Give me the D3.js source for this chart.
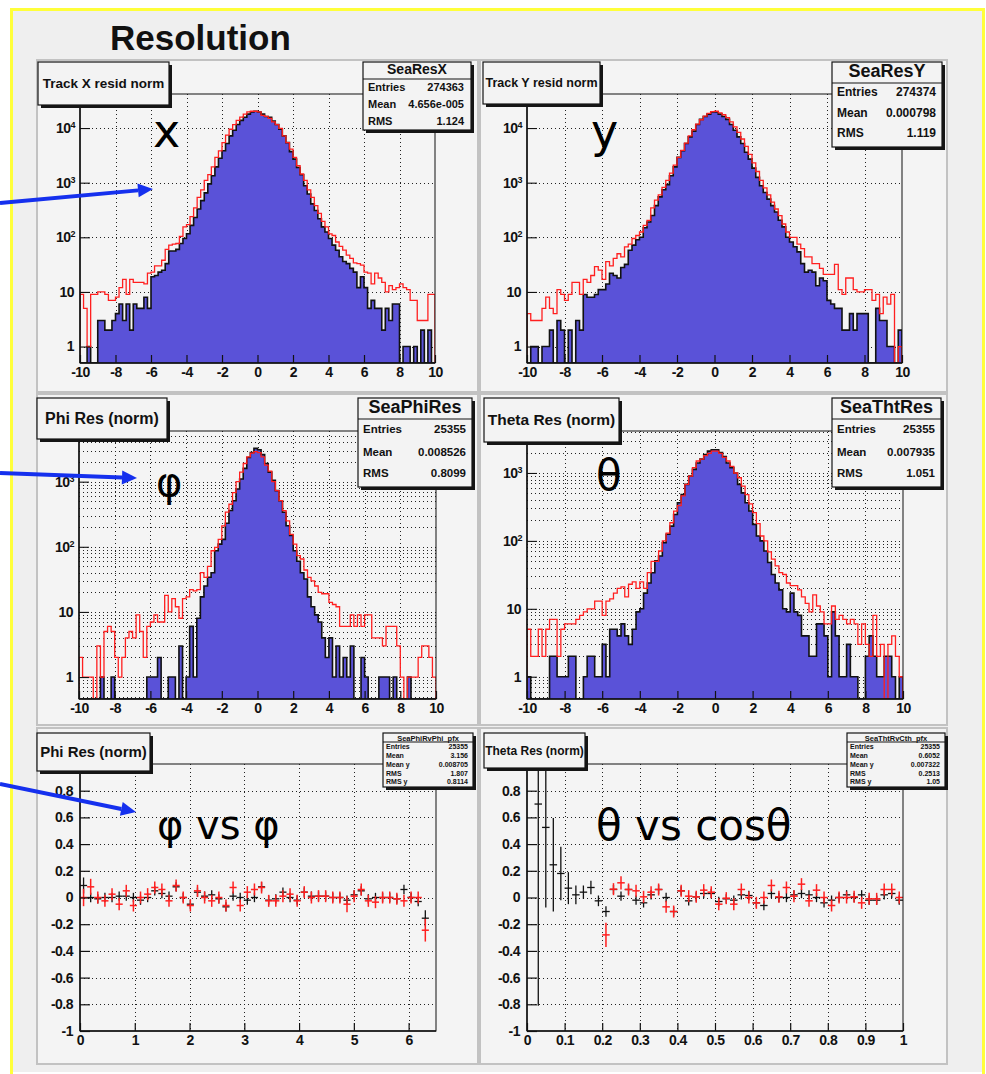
<!DOCTYPE html>
<html>
<head>
<meta charset="utf-8">
<script src="https://cdn.jsdelivr.net/npm/d3@7"></script>
<style>
  body { margin: 0; background: #ffffff; }
  svg { display: block; }
</style>
</head>
<body>
<svg id="c" width="986" height="1074"></svg>
<script>
// ---------------- data ----------------
// Residual histograms: 100 bins over [-10, 10]
const histLo = -10, histHi = 10, histBins = 100;
const histXTicks = [-10, -8, -6, -4, -2, 0, 2, 4, 6, 8, 10];

const resXBlack = [
  0, 0, 1, 0, 0, 3, 3, 2, 2, 3,
  4, 6, 3, 6, 2, 6, 5, 5, 8, 5,
  19, 20, 23, 25, 33, 56, 56, 60, 77, 95,
  116, 165, 230, 330, 470, 650, 950, 1340, 1950, 2800,
  3830, 5200, 7200, 9100, 11600, 13800, 15800, 18000, 19700, 20300,
  19700, 18000, 16300, 15800, 13500, 11600, 9500, 7200, 5400, 3700,
  2700, 1900, 1400, 880, 620, 410, 310, 218, 155, 125,
  95, 72, 58, 44, 36, 33, 27, 23, 12, 19,
  12, 5, 7, 5, 5, 2, 5, 3, 6, 6,
  0, 1, 1, 0, 1, 0, 2, 0, 2, 0
];
const resXRed = [
  9, 5, 1, 9, 9, 10, 10, 9, 7, 7,
  8, 12, 17, 9, 17, 15, 15, 15, 14, 22,
  23, 30, 30, 38, 60, 72, 75, 77, 104, 155,
  170, 240, 345, 540, 740, 1100, 1400, 1950, 2900, 3830,
  5400, 7400, 9500, 11600, 13800, 15800, 18000, 19700, 20300, 20300,
  19700, 17000, 16300, 15000, 13000, 11600, 9900, 7200, 5400, 4100,
  2900, 2040, 1440, 1100, 740, 540, 380, 275, 195, 155,
  116, 108, 82, 68, 58, 47, 41, 34, 33, 31,
  23, 22, 14, 22, 18, 15, 10, 13, 11, 12,
  14, 12, 11, 7, 7, 3, 3, 3, 9, 9
];
const resYBlack = [
  0, 1, 1, 0, 1, 1, 2, 0, 3, 2,
  0, 2, 0, 3, 2, 9, 8, 8, 9, 11,
  11, 14, 22, 20, 18, 28, 32, 58, 72, 90,
  100, 150, 190, 250, 380, 550, 740, 920, 1340, 1950,
  2900, 3830, 5200, 6900, 8800, 11600, 14400, 16300, 18000, 19700,
  19700, 18000, 16300, 14400, 11600, 9100, 6900, 5200, 3600, 2700,
  1850, 1250, 880, 660, 500, 380, 290, 205, 155, 100,
  82, 67, 54, 33, 23, 25, 23, 13, 18, 16,
  7, 6, 5, 5, 2, 2, 4, 2, 4, 4,
  4, 0, 0, 5, 3, 3, 1, 1, 0, 2
];
const resYRed = [
  4, 3, 3, 3, 5, 8, 5, 4, 11, 9,
  7, 9, 15, 15, 9, 17, 15, 20, 29, 25,
  17, 36, 30, 41, 50, 44, 67, 75, 95, 108,
  125, 165, 204, 345, 480, 600, 820, 1100, 1500, 2100,
  2900, 3900, 5300, 7200, 9300, 11800, 14200, 16500, 18500, 19900,
  20300, 19000, 17500, 15500, 13000, 10500, 8300, 6300, 4600, 3300,
  2300, 1600, 1100, 800, 600, 440, 330, 250, 175, 125,
  100, 100, 75, 62, 44, 44, 33, 33, 27, 21,
  21, 21, 32, 11, 9, 18, 18, 11, 10, 10,
  11, 11, 7, 9, 4, 8, 6, 9, 0, 1
];
const phiBlack = [
  0, 0, 0, 0, 0, 0, 1, 0, 0, 1,
  0, 0, 0, 0, 0, 0, 0, 0, 0, 1,
  1, 1, 2, 0, 0, 1, 1, 0, 3, 0,
  1, 6, 1, 8, 17, 25, 34, 40, 87, 110,
  130, 230, 360, 510, 770, 1100, 1600, 2350, 2800, 3250,
  3100, 2600, 1900, 1400, 1050, 730, 510, 340, 210, 150,
  87, 60, 40, 32, 17, 12, 9, 7, 4, 2,
  4, 1, 3, 1, 2, 1, 3, 0, 0, 2,
  1, 0, 0, 0, 1, 1, 1, 0, 1, 0,
  0, 0, 1, 0, 0, 0, 0, 0, 0, 0
];
const phiRed = [
  2, 1, 1, 1, 0, 3, 1, 5, 6, 5,
  2, 1, 2, 4, 5, 4, 9, 5, 2, 6,
  7, 9, 7, 7, 18, 10, 16, 12, 8, 16,
  17, 22, 21, 22, 40, 34, 50, 87, 98, 130,
  210, 340, 450, 680, 1000, 1400, 1900, 2400, 2750, 2900,
  2800, 2400, 1800, 1450, 1000, 730, 510, 360, 250, 155,
  110, 73, 65, 44, 34, 30, 25, 20, 19, 19,
  14, 13, 12, 6, 6, 6, 9, 6, 9, 6,
  9, 9, 4, 4, 4, 3, 6, 6, 6, 3,
  1, 0, 1, 1, 1, 2, 3, 3, 2, 1
];
const thtBlack = [
  1, 0, 0, 0, 0, 0, 2, 2, 1, 1,
  1, 2, 2, 0, 0, 1, 2, 2, 1, 1,
  3, 1, 5, 5, 4, 6, 4, 3, 5, 9,
  10, 17, 24, 34, 51, 60, 94, 125, 165, 245,
  365, 480, 680, 900, 1130, 1400, 1600, 1870, 2100, 2200,
  2200, 2000, 1750, 1400, 1200, 1000, 680, 510, 365, 275,
  175, 118, 100, 71, 48, 32, 24, 19, 10, 9,
  17, 9, 8, 4, 4, 2, 2, 6, 6, 4,
  1, 9, 4, 1, 1, 3, 1, 1, 0, 0,
  2, 4, 2, 1, 1, 2, 2, 1, 0, 1
];
const thtRed = [
  5, 2, 2, 5, 2, 5, 7, 7, 2, 5,
  6, 6, 6, 7, 8, 9, 10, 10, 13, 13,
  8, 13, 14, 17, 20, 21, 15, 23, 25, 20,
  25, 20, 34, 50, 50, 71, 100, 130, 185, 275,
  330, 460, 680, 900, 1200, 1500, 1600, 1800, 1950, 2100,
  2100, 1950, 1700, 1500, 1250, 1000, 850, 640, 480, 350,
  260, 180, 118, 100, 69, 54, 43, 34, 32, 24,
  22, 22, 19, 15, 12, 9, 16, 11, 9, 6,
  6, 11, 7, 8, 7, 6, 7, 6, 3, 6,
  3, 2, 8, 2, 3, 0, 3, 4, 2, 1
];

// Profiles: residual mean vs phi (bin width 0.13 from 0)
const phiProfBinWidth = 0.13;
const phiProfBlack = [
  0.09, 0.00, -0.01, 0.00, 0.00, 0.01, 0.01, 0.00, -0.02, 0.00,
  0.05, 0.03, 0.01, 0.08, 0.00, -0.05, 0.04, 0.01, 0.02, -0.01,
  -0.07, 0.01, 0.00, -0.02, 0.00, 0.08, -0.02, -0.01, 0.04, 0.00,
  -0.02, 0.04, 0.01, 0.01, 0.01, 0.00, 0.00, -0.02, 0.02, 0.05,
  -0.01, 0.00, 0.00, 0.00, -0.01, 0.06, 0.00, -0.03, -0.155
];
const phiProfBlackErr = [
  0.06, 0.035, 0.035, 0.035, 0.035, 0.035, 0.035, 0.035, 0.035, 0.035,
  0.035, 0.035, 0.035, 0.035, 0.035, 0.035, 0.035, 0.035, 0.035, 0.035,
  0.035, 0.035, 0.035, 0.035, 0.035, 0.035, 0.035, 0.035, 0.035, 0.035,
  0.035, 0.035, 0.035, 0.035, 0.035, 0.035, 0.035, 0.035, 0.035, 0.035,
  0.035, 0.035, 0.035, 0.035, 0.035, 0.035, 0.035, 0.035, 0.06
];
const phiProfRed = [
  0.00, 0.08, 0.00, -0.025, 0.025, -0.05, 0.05, -0.06, 0.00, 0.025,
  0.075, 0.06, -0.025, 0.09, 0.00, -0.06, 0.05, 0.00, -0.025, 0.00,
  -0.06, 0.075, -0.06, 0.04, 0.06, 0.075, -0.025, -0.025, 0.01, 0.025,
  -0.025, 0.04, 0.00, 0.01, 0.01, 0.00, 0.00, -0.05, 0.01, 0.06,
  -0.025, -0.035, 0.00, 0.00, -0.01, -0.025, 0.00, 0.00, -0.245
];
const phiProfRedErr = [
  0.065, 0.06, 0.045, 0.045, 0.045, 0.045, 0.045, 0.045, 0.045, 0.045,
  0.045, 0.045, 0.045, 0.045, 0.045, 0.045, 0.045, 0.045, 0.045, 0.045,
  0.045, 0.045, 0.045, 0.045, 0.045, 0.045, 0.045, 0.045, 0.045, 0.045,
  0.045, 0.045, 0.045, 0.045, 0.045, 0.045, 0.045, 0.06, 0.045, 0.045,
  0.045, 0.045, 0.045, 0.045, 0.045, 0.045, 0.045, 0.045, 0.085
];

// Profiles: residual mean vs cos(theta) (bin width 0.02 from 0)
const cosProfBinWidth = 0.02;
const cosProfBlack = [
  null, 0.70, 0.525, 0.245, 0.18, 0.07, 0.02, 0.04, 0.075, -0.025,
  -0.105, 0.06, 0.01, 0.06, -0.02, -0.04, 0.02, 0.06, 0.00, -0.105,
  0.05, -0.025, 0.005, 0.03, 0.03, -0.03, -0.01, -0.02, 0.02, 0.015,
  -0.04, -0.06, 0.03, 0.00, 0.00, 0.02, 0.03, 0.02, 0.00, -0.04,
  -0.02, 0.00, 0.02, 0.00, 0.02, -0.02, -0.02, 0.02, 0.03, -0.02
];
const cosProfBlackErr = [
  null, 1.51, 0.6, 0.35, 0.2, 0.12, 0.07, 0.05, 0.05, 0.04,
  0.04, 0.035, 0.035, 0.035, 0.035, 0.035, 0.035, 0.035, 0.035, 0.035,
  0.035, 0.035, 0.035, 0.035, 0.035, 0.035, 0.035, 0.035, 0.035, 0.035,
  0.035, 0.035, 0.035, 0.035, 0.035, 0.035, 0.035, 0.035, 0.035, 0.035,
  0.035, 0.035, 0.035, 0.035, 0.035, 0.035, 0.035, 0.035, 0.035, 0.035
];
const cosProfRed = [
  null, null, null, null, null, null, null, null, null, null,
  -0.28, 0.0625, 0.11, 0.06, 0.05, 0.005, 0.04, 0.06, -0.07, -0.105,
  0.05, 0.01, 0.005, 0.055, 0.04, -0.05, -0.005, -0.05, 0.06, 0.00,
  -0.04, 0.00, 0.09, 0.005, 0.075, 0.01, 0.10, -0.025, 0.055, 0.00,
  -0.06, 0.00, 0.00, 0.005, -0.04, -0.01, -0.01, 0.06, 0.06, 0.00
];
const cosProfRedErr = [
  null, null, null, null, null, null, null, null, null, null,
  0.09, 0.045, 0.05, 0.045, 0.045, 0.045, 0.045, 0.045, 0.045, 0.045,
  0.045, 0.045, 0.045, 0.045, 0.045, 0.045, 0.045, 0.045, 0.045, 0.045,
  0.045, 0.045, 0.045, 0.045, 0.045, 0.045, 0.045, 0.045, 0.045, 0.045,
  0.045, 0.045, 0.045, 0.045, 0.045, 0.045, 0.045, 0.045, 0.045, 0.045
];

// tick positions of the profile y axis, and the subset that carries a label
// (the top label sits under the title pave)
const profYTicks = [-1, -0.8, -0.6, -0.4, -0.2, 0, 0.2, 0.4, 0.6, 0.8, 1];
const profYLabels = [-1, -0.8, -0.6, -0.4, -0.2, 0, 0.2, 0.4, 0.6, 0.8];
const phiXTicks = [0, 1, 2, 3, 4, 5, 6];
const cosXTicks = [0, 0.1, 0.2, 0.3, 0.4, 0.5, 0.6, 0.7, 0.8, 0.9, 1];

// Statistics box contents
const statsResX = [["Entries", "274363"], ["Mean", "4.656e-005"], ["RMS", "1.124"]];
const statsResY = [["Entries", "274374"], ["Mean", "0.000798"], ["RMS", "1.119"]];
const statsPhi = [["Entries", "25355"], ["Mean", "0.008526"], ["RMS", "0.8099"]];
const statsTht = [["Entries", "25355"], ["Mean", "0.007935"], ["RMS", "1.051"]];
const statsPhiProf = [["Entries", "25355"], ["Mean", "3.156"], ["Mean y", "0.008705"], ["RMS", "1.807"], ["RMS y", "0.8114"]];
const statsCosProf = [["Entries", "25355"], ["Mean", "0.6052"], ["Mean y", "0.007322"], ["RMS", "0.2513"], ["RMS y", "1.05"]];

// ---------------- drawing ----------------
const FONT = "'Liberation Sans', Arial, Helvetica, sans-serif";
const HAND = "'DejaVu Sans', 'Noto Sans', sans-serif";
const FILL_BLUE = "#5a52d8";
const RED = "#ff1f1f";
const svg = d3.select("#c");
const defs = svg.append("defs");
let clipCount = 0;

// canvas background and yellow border
svg.append("rect").attr("width", 986).attr("height", 1074).attr("fill", "#ffffff");
svg.append("rect").attr("x", 12).attr("y", 10).attr("width", 972).attr("height", 1062).attr("fill", "#efefef");

// pads
const padRects = [
  { x: 37, y: 60, w: 441, h: 332 }, { x: 480, y: 60, w: 467, h: 332 },
  { x: 37, y: 394, w: 441, h: 331 }, { x: 480, y: 394, w: 467, h: 331 },
  { x: 37, y: 728, w: 441, h: 336 }, { x: 480, y: 728, w: 467, h: 336 }
];
padRects.forEach(r => {
  svg.append("rect").attr("x", r.x).attr("y", r.y).attr("width", r.w).attr("height", r.h)
    .attr("fill", "#f4f4f4").attr("stroke", "#c2c2c2").attr("stroke-width", 2);
});

svg.append("rect").attr("x", 11.5).attr("y", 9.5).attr("width", 972).attr("height", 1070)
  .attr("fill", "none").attr("stroke", "#ffff3a").attr("stroke-width", 3);

svg.append("text").attr("x", 110).attr("y", 50).attr("font-family", FONT).attr("font-weight", "bold")
  .attr("font-size", 35).attr("fill", "#111").text("Resolution");

function pave(g, b) {
  g.append("rect").attr("x", b.x + 3).attr("y", b.y + 3).attr("width", b.w).attr("height", b.h).attr("fill", "#151515");
  g.append("rect").attr("x", b.x).attr("y", b.y).attr("width", b.w).attr("height", b.h)
    .attr("fill", "#f3f3f3").attr("stroke", "#151515").attr("stroke-width", 1.2);
}

function titleBox(g, b, text, size) {
  pave(g, b);
  g.append("text").attr("x", b.x + b.w / 2).attr("y", b.y + b.h / 2).attr("dy", "0.35em")
    .attr("text-anchor", "middle").attr("font-family", FONT).attr("font-weight", "bold")
    .attr("font-size", size).attr("fill", "#111").text(text);
}

function statsBox(g, s, name, rows) {
  pave(g, s.box);
  g.append("text").attr("x", s.box.x + s.box.w / 2).attr("y", s.headY).attr("dy", "0.35em")
    .attr("text-anchor", "middle").attr("font-family", FONT).attr("font-weight", "bold")
    .attr("font-size", s.headSize).attr("fill", "#111").text(name);
  g.append("line").attr("x1", s.box.x).attr("x2", s.box.x + s.box.w).attr("y1", s.divY).attr("y2", s.divY)
    .attr("stroke", "#151515").attr("stroke-width", 1.2);
  rows.forEach((r, i) => {
    const yy = s.rowY[i];
    g.append("text").attr("x", s.box.x + s.padL).attr("y", yy).attr("dy", "0.35em")
      .attr("font-family", FONT).attr("font-weight", "bold").attr("font-size", s.rowSize).attr("fill", "#111").text(r[0]);
    g.append("text").attr("x", s.box.x + s.box.w - s.padR).attr("y", yy).attr("dy", "0.35em").attr("text-anchor", "end")
      .attr("font-family", FONT).attr("font-weight", "bold").attr("font-size", s.rowSize).attr("fill", "#111").text(r[1]);
  });
}

function makeClip(f) {
  const id = "clip" + (clipCount++);
  defs.append("clipPath").attr("id", id).append("rect")
    .attr("x", f.x0).attr("y", f.y0).attr("width", f.x1 - f.x0).attr("height", f.y1 - f.y0);
  return "url(#" + id + ")";
}

function gridLines(g, f, xs, ys, x, y) {
  const gg = g.append("g").attr("stroke", "#222").attr("stroke-width", 1).attr("stroke-dasharray", "1,3");
  xs.forEach(v => {
    const px = Math.round(x(v)) + 0.5;
    if (px > f.x0 + 1 && px < f.x1 - 1) gg.append("line").attr("x1", px).attr("x2", px).attr("y1", f.y0).attr("y2", f.y1);
  });
  ys.forEach(v => {
    const py = Math.round(y(v)) + 0.5;
    if (py > f.y0 + 1 && py < f.y1 - 1) gg.append("line").attr("x1", f.x0).attr("x2", f.x1).attr("y1", py).attr("y2", py);
  });
}

function xAxis(g, f, x, majors, minors, fmt) {
  const ax = g.append("g").attr("transform", `translate(0,${f.y1})`);
  ax.call(d3.axisBottom(x).tickValues(minors).tickSize(-4).tickFormat(""));
  ax.call(d3.axisBottom(x).tickValues(majors).tickSize(-8).tickPadding(4).tickFormat(fmt));
  ax.selectAll("path.domain").remove();
  ax.selectAll("line").attr("stroke", "#111").attr("stroke-width", 1.2);
  ax.selectAll("text").attr("font-family", FONT).attr("font-weight", "bold").attr("font-size", 14)
    .attr("fill", "#111").attr("y", 4).attr("dy", "0.71em").attr("letter-spacing", "-0.5");
  g.append("line").attr("x1", f.x0).attr("x2", f.x1).attr("y1", f.y1).attr("y2", f.y1).attr("stroke", "#111").attr("stroke-width", 1.5);
}

function yAxisLinear(g, f, y, majors, labelled, minors, fmt) {
  const ax = g.append("g").attr("transform", `translate(${f.x0},0)`);
  ax.call(d3.axisLeft(y).tickValues(minors).tickSize(-5).tickFormat(""));
  ax.call(d3.axisLeft(y).tickValues(majors).tickSize(-10).tickFormat(""));
  ax.call(d3.axisLeft(y).tickValues(labelled).tickSize(-10).tickPadding(7).tickFormat(fmt));
  ax.selectAll("path.domain").remove();
  ax.selectAll("line").attr("stroke", "#111").attr("stroke-width", 1.2);
  ax.selectAll("text").attr("font-family", FONT).attr("font-weight", "bold").attr("font-size", 14)
    .attr("fill", "#111").attr("letter-spacing", "-0.5");
  g.append("line").attr("x1", f.x0).attr("x2", f.x0).attr("y1", f.y0).attr("y2", f.y1).attr("stroke", "#111").attr("stroke-width", 1.5);
}

function logMinors(dom) {
  const out = [];
  for (let k = Math.floor(Math.log10(dom[0])); k <= Math.ceil(Math.log10(dom[1])); k++) {
    for (let m = 1; m <= 9; m++) {
      const v = m * Math.pow(10, k);
      if (v >= dom[0] && v <= dom[1]) out.push(v);
    }
  }
  return out;
}

function yAxisLog(g, f, y, decades) {
  const dom = y.domain();
  const ax = g.append("g").attr("transform", `translate(${f.x0},0)`);
  ax.call(d3.axisLeft(y).tickValues(logMinors(dom)).tickSize(-5).tickFormat(""));
  ax.call(d3.axisLeft(y).tickValues(decades).tickSize(-10).tickFormat(""));
  ax.selectAll("path.domain").remove();
  ax.selectAll("line").attr("stroke", "#111").attr("stroke-width", 1.1);
  g.append("line").attr("x1", f.x0).attr("x2", f.x0).attr("y1", f.y0).attr("y2", f.y1).attr("stroke", "#111").attr("stroke-width", 1.5);
  decades.forEach(v => {
    const e = Math.round(Math.log10(v));
    const t = g.append("text").attr("y", y(v)).attr("dy", "0.35em").attr("text-anchor", "end")
      .attr("font-family", FONT).attr("font-weight", "bold").attr("font-size", 14).attr("fill", "#111")
      .attr("letter-spacing", "-0.5");
    if (e <= 1) {
      t.attr("x", f.x0 - 6).text(String(v));
    } else {
      t.attr("x", f.x0 - 5);
      t.append("tspan").text("10");
      t.append("tspan").attr("font-size", 9).attr("dy", "-0.55em").text(String(e));
    }
  });
}

function histPanel(p) {
  const g = svg.append("g");
  const f = p.frame;
  const x = d3.scaleLinear().domain([histLo, histHi]).range([f.x0, f.x1]);
  const y = d3.scaleLog().domain(p.yDomain).range([f.y1, f.y0]);
  const decades = [1, 10, 100, 1000, 10000].filter(v => v <= p.yDomain[1]);

  gridLines(g, f, histXTicks, p.denseGrid ? logMinors(p.yDomain) : decades, x, y);

  const edges = d3.range(histBins + 1).map(i => histLo + (histHi - histLo) * i / histBins);
  const yv = v => (v > 0 ? y(Math.max(v, p.yDomain[0])) : f.y1);
  const stepPts = vals => [[histLo, 0]].concat(edges.map((e, i) => [e, vals[Math.min(i, histBins - 1)]])).concat([[histHi, 0]]);

  const clip = makeClip(f);
  const area = d3.area().x(d => x(d[0])).y0(f.y1).y1(d => yv(d[1])).curve(d3.curveStepAfter);
  const line = d3.line().x(d => x(d[0])).y(d => yv(d[1])).curve(d3.curveStepAfter);

  const hg = g.append("g").attr("clip-path", clip);
  hg.append("path").attr("d", area(stepPts(p.black))).attr("fill", FILL_BLUE);
  hg.append("path").attr("d", line(stepPts(p.black))).attr("fill", "none").attr("stroke", "#111").attr("stroke-width", 1.6);
  hg.append("path").attr("d", line(stepPts(p.red))).attr("fill", "none").attr("stroke", RED).attr("stroke-width", 1.3);

  g.append("rect").attr("x", f.x0).attr("y", f.y0).attr("width", f.x1 - f.x0).attr("height", f.y1 - f.y0)
    .attr("fill", "none").attr("stroke", "#111").attr("stroke-width", 1);
  xAxis(g, f, x, histXTicks, d3.range(histLo, histHi + 0.001, 0.4), d => String(d));
  yAxisLog(g, f, y, decades);

  titleBox(g, p.title, p.titleText, p.titleSize);
  statsBox(g, p.stats, p.statsName, p.statsRows);
}

function profilePanel(p) {
  const g = svg.append("g");
  const f = p.frame;
  const x = d3.scaleLinear().domain(p.xDomain).range([f.x0, f.x1]);
  const y = d3.scaleLinear().domain([-1, 1]).range([f.y1, f.y0]);

  gridLines(g, f, p.xTicks, profYTicks, x, y);

  const pg = g.append("g").attr("clip-path", makeClip(f));
  p.series.forEach(s => {
    s.values.forEach((v, i) => {
      if (v === null) return;
      const c = (i + 0.5) * p.binWidth;
      const e = s.errs[i];
      pg.append("line").attr("x1", x(c - p.binWidth / 2)).attr("x2", x(c + p.binWidth / 2))
        .attr("y1", y(v)).attr("y2", y(v)).attr("stroke", s.color).attr("stroke-width", s.width);
      pg.append("line").attr("x1", x(c)).attr("x2", x(c))
        .attr("y1", y(v - e)).attr("y2", y(v + e)).attr("stroke", s.color).attr("stroke-width", s.width);
    });
  });

  g.append("rect").attr("x", f.x0).attr("y", f.y0).attr("width", f.x1 - f.x0).attr("height", f.y1 - f.y0)
    .attr("fill", "none").attr("stroke", "#111").attr("stroke-width", 1);
  const fmt = d => String(+d.toFixed(2));
  xAxis(g, f, x, p.xTicks, p.xMinors, fmt);
  yAxisLinear(g, f, y, profYTicks, profYLabels, d3.range(-1, 1.0001, 0.05), fmt);

  titleBox(g, p.title, p.titleText, p.titleSize);
  statsBox(g, p.stats, p.statsName, p.statsRows);
}

// ---- top row: track residuals ----
histPanel({
  frame: { x0: 80, x1: 435, y0: 94, y1: 363 }, yDomain: [0.5, 42000], denseGrid: false,
  black: resXBlack, red: resXRed,
  title: { x: 38, y: 62, w: 131, h: 43 }, titleText: "Track X resid norm", titleSize: 13.5,
  stats: { box: { x: 363, y: 62, w: 108, h: 68 }, headY: 69, headSize: 14, divY: 79, rowY: [87, 104, 121], rowSize: 11, padL: 5, padR: 7 },
  statsName: "SeaResX", statsRows: statsResX
});
histPanel({
  frame: { x0: 527, x1: 902, y0: 94, y1: 363 }, yDomain: [0.5, 42000], denseGrid: false,
  black: resYBlack, red: resYRed,
  title: { x: 483, y: 62, w: 117, h: 42 }, titleText: "Track Y resid norm", titleSize: 12.5,
  stats: { box: { x: 832, y: 62, w: 110, h: 85 }, headY: 71, headSize: 18, divY: 83, rowY: [92, 113, 133], rowSize: 12, padL: 5, padR: 6 },
  statsName: "SeaResY", statsRows: statsResY
});

// ---- middle row: angular residuals ----
histPanel({
  frame: { x0: 79, x1: 436, y0: 431, y1: 699 }, yDomain: [0.46, 6000], denseGrid: true,
  black: phiBlack, red: phiRed,
  title: { x: 37, y: 398, w: 130, h: 41 }, titleText: "Phi Res (norm)", titleSize: 16,
  stats: { box: { x: 358, y: 398, w: 114, h: 89 }, headY: 407, headSize: 18, divY: 419, rowY: [429, 452, 473], rowSize: 11.5, padL: 5, padR: 6 },
  statsName: "SeaPhiRes", statsRows: statsPhi
});
histPanel({
  frame: { x0: 527, x1: 903, y0: 431, y1: 699 }, yDomain: [0.47, 4150], denseGrid: true,
  black: thtBlack, red: thtRed,
  title: { x: 484, y: 398, w: 135, h: 44 }, titleText: "Theta Res (norm)", titleSize: 15.5,
  stats: { box: { x: 832, y: 398, w: 109, h: 89 }, headY: 407, headSize: 18, divY: 419, rowY: [429, 452, 473], rowSize: 11.5, padL: 5, padR: 6 },
  statsName: "SeaThtRes", statsRows: statsTht
});

// ---- bottom row: profiles ----
profilePanel({
  frame: { x0: 80, x1: 436, y0: 764, y1: 1031 }, xDomain: [0, 6.5], binWidth: phiProfBinWidth,
  xTicks: phiXTicks, xMinors: d3.range(0, 6.5001, 0.2),
  series: [
    { values: phiProfBlack, errs: phiProfBlackErr, color: "#111", width: 1.3 },
    { values: phiProfRed, errs: phiProfRedErr, color: RED, width: 1.5 }
  ],
  title: { x: 37, y: 733, w: 113, h: 38 }, titleText: "Phi Res (norm)", titleSize: 15,
  stats: { box: { x: 383, y: 733, w: 90, h: 54 }, headY: 738, headSize: 7.5, divY: 742, rowY: [747, 756, 765, 774, 782], rowSize: 7, padL: 3, padR: 5 },
  statsName: "SeaPhiRvPhi_pfx", statsRows: statsPhiProf
});
profilePanel({
  frame: { x0: 527, x1: 903, y0: 764, y1: 1031 }, xDomain: [0, 1], binWidth: cosProfBinWidth,
  xTicks: cosXTicks, xMinors: d3.range(0, 1.0001, 0.02),
  series: [
    { values: cosProfBlack, errs: cosProfBlackErr, color: "#111", width: 1.3 },
    { values: cosProfRed, errs: cosProfRedErr, color: RED, width: 1.5 }
  ],
  title: { x: 484, y: 733, w: 101, h: 35 }, titleText: "Theta Res (norm)", titleSize: 12,
  stats: { box: { x: 847, y: 733, w: 98, h: 54 }, headY: 738, headSize: 7.5, divY: 742, rowY: [747, 756, 765, 774, 782], rowSize: 7, padL: 3, padR: 5 },
  statsName: "SeaThtRvCth_pfx", statsRows: statsCosProf
});

// ---- hand-written annotations ----
const notes = [
  { x: 153, y: 147, size: 46, text: "x" },
  { x: 591, y: 147, size: 46, text: "y" },
  { x: 156, y: 496, size: 40, text: "φ" },
  { x: 596, y: 490, size: 42, text: "θ" },
  { x: 157, y: 839, size: 40, text: "φ vs φ" },
  { x: 596, y: 840, size: 42, text: "θ vs cosθ" }
];
notes.forEach(n => {
  svg.append("text").attr("x", n.x).attr("y", n.y).attr("font-family", HAND).attr("font-size", n.size)
    .attr("fill", "#000").text(n.text);
});

// ---- pointer arrows ----
const arrows = [
  { x1: 0, y1: 203, x2: 153, y2: 189 },
  { x1: 0, y1: 473, x2: 137, y2: 478 },
  { x1: 0, y1: 784, x2: 136, y2: 812 }
];
arrows.forEach(a => {
  const ang = Math.atan2(a.y2 - a.y1, a.x2 - a.x1);
  const L = 15, W = 7;
  const bx = a.x2 - L * Math.cos(ang), by = a.y2 - L * Math.sin(ang);
  svg.append("line").attr("x1", a.x1).attr("y1", a.y1).attr("x2", bx).attr("y2", by)
    .attr("stroke", "#1530ee").attr("stroke-width", 4);
  const px = -Math.sin(ang) * W, py = Math.cos(ang) * W;
  svg.append("path").attr("d", `M${a.x2},${a.y2}L${bx + px},${by + py}L${bx - px},${by - py}Z`).attr("fill", "#1530ee");
});
</script>
</body>
</html>
